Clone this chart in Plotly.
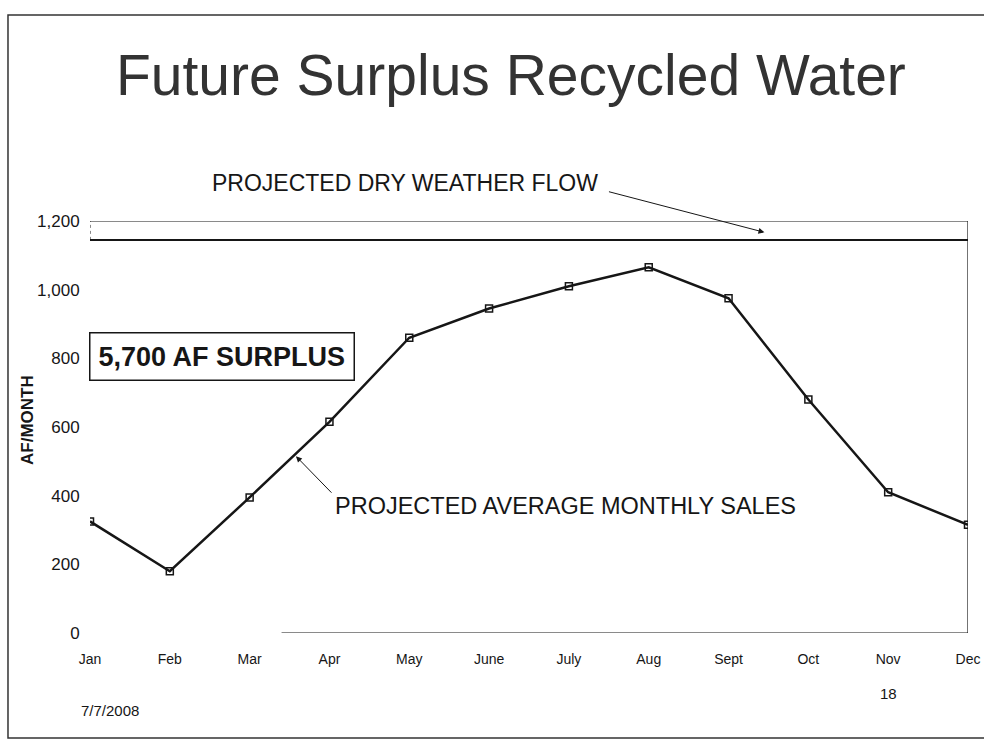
import plotly.graph_objects as go

# ─── Data ───────────────────────────────────────────────────────────
months = ["Jan", "Feb", "Mar", "Apr", "May", "June",
          "July", "Aug", "Sept", "Oct", "Nov", "Dec"]
avg_monthly_sales = [325, 180, 395, 615, 860, 945, 1010, 1065, 975, 680, 410, 315]
dry_weather_flow = [1145] * 12
y_ticks = [0, 200, 400, 600, 800, 1000, 1200]
y_tick_text = ["0", "200", "400", "600", "800", "1,000", "1,200"]

FONT = "Arial, Liberation Sans, sans-serif"
INK = "#161616"

x_idx = list(range(len(months)))

fig = go.Figure()

# Dry weather flow line
fig.add_trace(
    go.Scatter(
        x=x_idx,
        y=dry_weather_flow,
        mode="lines",
        line=dict(color=INK, width=2),
        hoverinfo="skip",
        showlegend=False,
    )
)

# Average monthly sales
fig.add_trace(
    go.Scatter(
        x=x_idx,
        y=avg_monthly_sales,
        mode="lines+markers",
        line=dict(color=INK, width=2.5),
        marker=dict(symbol="square-open", size=7, color=INK, line=dict(width=1.5)),
        showlegend=False,
    )
)

# Plot frame (partial, like the scanned slide)
last = len(months) - 1
fig.add_shape(type="line", x0=0, x1=last, y0=1200, y1=1200,
              line=dict(color=INK, width=1.2))
fig.add_shape(type="line", x0=last, x1=last, y0=0, y1=1200,
              line=dict(color=INK, width=1.2))
fig.add_shape(type="line", x0=2.4, x1=last, y0=0, y1=0,
              line=dict(color=INK, width=1.2))
fig.add_shape(type="line", x0=0, x1=0, y0=1145, y1=1200,
              line=dict(color=INK, width=1, dash="dot"))

# Slide border
fig.add_shape(type="rect", xref="paper", yref="paper",
              x0=-0.0934, x1=1.2, y0=-0.255, y1=1.5,
              line=dict(color="#333", width=1.5))


def paper_text(text, x, y, size, **kw):
    return dict(text=text, xref="paper", yref="paper", x=x, y=y,
                xanchor="center", yanchor="middle", showarrow=False,
                font=dict(size=size, color=kw.pop("color", INK), family=FONT), **kw)


annotations = [
    paper_text("Future Surplus Recycled Water", 0.4795, 1.354, 57, color="#333"),
    paper_text("<b>AF/MONTH</b>", -0.0706, 0.517, 17, textangle=-90),
    paper_text("PROJECTED DRY WEATHER FLOW", 0.359, 1.092, 23),
    paper_text("7/7/2008", 0.023, -0.187, 15),
    paper_text("18", 0.909, -0.146, 15),
    # Dry weather flow arrow
    dict(text="", x=8.45, y=1167, ax=-157, ay=-41, showarrow=True,
         arrowhead=2, arrowsize=1.2, arrowwidth=1, arrowcolor=INK),
    # Average sales label + arrow
    dict(text="PROJECTED AVERAGE MONTHLY SALES", x=3.05, y=370,
         xanchor="left", yanchor="middle", showarrow=False,
         font=dict(size=23.5, color=INK, family=FONT)),
    dict(text="", x=2.58, y=515, ax=37, ay=38, showarrow=True,
         arrowhead=2, arrowsize=1.2, arrowwidth=1, arrowcolor=INK),
    # Surplus box
    dict(text="<b>5,700 AF SURPLUS</b>", x=1.65, y=805, showarrow=False,
         xanchor="center", yanchor="middle",
         bordercolor=INK, borderwidth=1.5, borderpad=8, bgcolor="white",
         font=dict(size=27, color=INK, family=FONT)),
]

fig.update_layout(
    width=984,
    height=755,
    paper_bgcolor="white",
    plot_bgcolor="white",
    margin=dict(l=90, r=16, t=221, b=122),
    font=dict(family=FONT, color=INK),
    annotations=annotations,
    xaxis=dict(
        range=[0, last],
        tickvals=x_idx,
        ticktext=months,
        ticks="outside",
        ticklen=13,
        tickcolor="rgba(0,0,0,0)",
        tickfont=dict(size=14, color=INK),
        ticklabeloverflow="allow",
        automargin=False,
        showgrid=False,
        zeroline=False,
        showline=False,
    ),
    yaxis=dict(
        range=[0, 1200],
        tickvals=y_ticks,
        ticktext=y_tick_text,
        ticks="outside",
        ticklen=6,
        tickcolor="rgba(0,0,0,0)",
        tickfont=dict(size=17, color=INK),
        automargin=False,
        showgrid=False,
        zeroline=False,
        showline=False,
    ),
)

# drop the default 8px page margin so the figure fills the window exactly
fig.write_html(
    "out.html",
    config={"displayModeBar": False},
    post_script="document.body.style.margin='0';document.body.style.overflow='hidden';",
)
